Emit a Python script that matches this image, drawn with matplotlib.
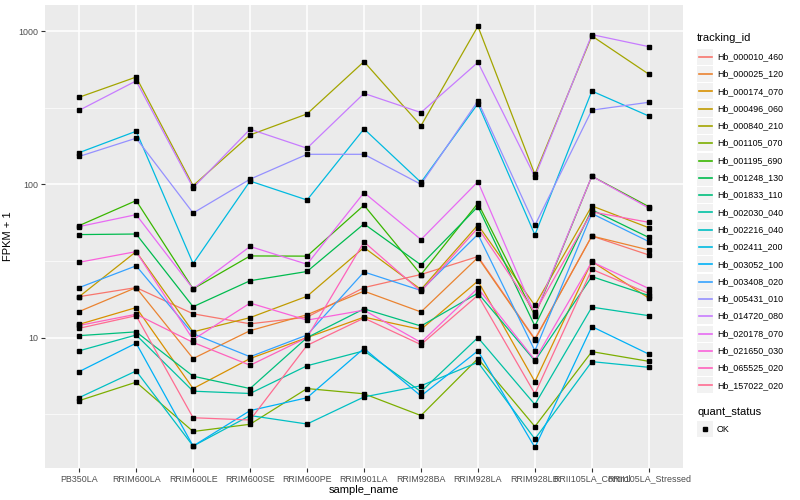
import numpy as np
import matplotlib
matplotlib.use("Agg")
import matplotlib.pyplot as plt
from matplotlib.lines import Line2D
from matplotlib.patches import Rectangle

plt.rcParams['font.family'] = ['Liberation Sans', 'DejaVu Sans']

######## data ########
samples = ["PB350LA", "RRIM600LA", "RRIM600LE", "RRIM600SE", "RRIM600PE", "RRIM901LA",
           "RRIM928BA", "RRIM928LA", "RRIM928LB", "RRII105LA_Control", "RRII105LA_Stressed"]

tracking_ids = ["Hb_000010_460", "Hb_000025_120", "Hb_000174_070", "Hb_000496_060",
                "Hb_000840_210", "Hb_001105_070", "Hb_001195_690", "Hb_001248_130",
                "Hb_001833_110", "Hb_002030_040", "Hb_002216_040", "Hb_002411_200",
                "Hb_003052_100", "Hb_003408_020", "Hb_005431_010", "Hb_014720_080",
                "Hb_020178_070", "Hb_021650_030", "Hb_065525_020", "Hb_157022_020"]

# ggplot default hue palette, 20 levels
colors = ["#F8766D", "#EA8331", "#D89000", "#C09B00", "#A3A500", "#7CAE00", "#39B600",
          "#00BB4E", "#00BF7D", "#00C1A3", "#00BFC4", "#00BAE0", "#00B0F6", "#35A2FF",
          "#9590FF", "#C77CFF", "#E76BF3", "#FA62DB", "#FF62BC", "#FF6C91"]

# FPKM + 1, one list per tracking_id (in sample order)
hb_000010_460 = [18.5, 21.2, 14.3, 12.3, 13.6, 21.2, 25.8, 33.8, 9.8, 46, 34.6]
hb_000025_120 = [14.8, 21.2, 7.3, 11.1, 14.1, 20.1, 14.7, 33.3, 9.7, 46, 37.3]
hb_000174_070 = [12.2, 15.7, 4.65, 7.3, 10.0, 13.6, 11.3, 23.4, 5.16, 31.4, 18.1]
hb_000496_060 = [18.5, 36.4, 10.9, 13.5, 18.6, 38.7, 20.6, 54.3, 16.2, 72.3, 52.1]
hb_000840_210 = [370, 501, 98, 210, 288, 632, 241, 1074, 116, 929, 523]
hb_001105_070 = [3.88, 5.12, 2.44, 2.72, 4.65, 4.3, 3.1, 7.3, 2.63, 8.1, 7.0]
hb_001195_690 = [53.8, 78.3, 20.8, 34.1, 34.0, 73.1, 25.8, 75.3, 13.9, 113, 71.5]
hb_001248_130 = [47, 47.4, 15.9, 23.5, 27.0, 55.2, 29.8, 71.5, 11.9, 68.2, 45]
hb_001833_110 = [10.3, 10.9, 5.6, 4.65, 10.0, 15.4, 11.9, 19.5, 7.05, 25.0, 18.8]
hb_002030_040 = [8.2, 10.4, 4.47, 4.32, 6.55, 8.2, 4.44, 10.0, 3.66, 15.8, 13.9]
hb_002216_040 = [4.06, 6.06, 1.96, 3.10, 2.73, 4.1, 4.85, 6.9, 2.18, 6.97, 6.4]
hb_002411_200 = [161, 222, 30.4, 105, 79, 230, 103, 336, 46.8, 406, 279]
hb_003052_100 = [6.0, 9.2, 1.96, 3.34, 4.05, 8.5, 4.16, 8.2, 1.92, 11.8, 7.8]
hb_003408_020 = [21.2, 29.4, 10.6, 7.5, 10.4, 26.8, 20.3, 47.2, 8.2, 64.5, 42.3]
hb_005431_010 = [152, 200, 65, 108, 157, 157, 100, 350, 54, 305, 343]
hb_014720_080 = [304, 473, 95, 229, 172, 392, 294, 625, 112, 948, 791]
hb_020178_070 = [53, 63.4, 20.8, 39.3, 30.1, 88.3, 43.6, 104, 14.2, 113, 70]
hb_021650_030 = [31, 36.4, 9.7, 16.8, 13.0, 15.1, 9.3, 21.0, 7.15, 31.2, 20.9]
hb_065525_020 = [12.0, 14.2, 9.3, 6.6, 10.0, 42.1, 20.0, 52, 14.6, 66.1, 56.5]
hb_157022_020 = [11.5, 13.9, 3.0, 2.9, 8.9, 13.4, 9.0, 18.9, 4.3, 27.9, 19.4]

series = [hb_000010_460, hb_000025_120, hb_000174_070, hb_000496_060, hb_000840_210,
          hb_001105_070, hb_001195_690, hb_001248_130, hb_001833_110, hb_002030_040,
          hb_002216_040, hb_002411_200, hb_003052_100, hb_003408_020, hb_005431_010,
          hb_014720_080, hb_020178_070, hb_021650_030, hb_065525_020, hb_157022_020]

######## plot ########
fig = plt.figure(figsize=(8, 5), dpi=100)
ax = fig.add_axes([45/800, 1-468/500, (683-45)/800, (468-5)/500])
ax.set_facecolor("#EBEBEB")

x = np.arange(len(samples))
for vals, col in zip(series, colors):
    ax.plot(x, vals, color=col, lw=0.9, zorder=3)
for vals in series:
    ax.plot(x, vals, ls="none", marker="s", ms=2.3, color="black", zorder=4)

ax.set_yscale("log")
ax.set_ylim(1.41, 1479)
ax.set_xlim(-0.6, len(samples) - 0.4)

ax.set_yticks([10, 100, 1000])
ax.set_yticklabels(["10", "100", "1000"])
ax.yaxis.set_minor_locator(matplotlib.ticker.FixedLocator([10**0.5, 10**1.5, 10**2.5]))
ax.yaxis.set_minor_formatter(matplotlib.ticker.NullFormatter())
ax.set_xticks(x)
ax.set_xticklabels(samples)

ax.grid(True, which="major", color="white", lw=1.1, zorder=0)
ax.grid(True, which="minor", axis="y", color="white", lw=0.5, zorder=0)
ax.set_axisbelow(True)
for s in ax.spines.values():
    s.set_visible(False)
ax.tick_params(axis="both", which="major", length=2.7, width=0.8, color="#333333",
               labelsize=6.4, labelcolor="#4D4D4D", pad=2)
ax.tick_params(axis="y", which="minor", length=0)

ax.set_xlabel("sample_name", fontsize=8, labelpad=1)
ax.set_ylabel("FPKM + 1", fontsize=8, labelpad=4)

# legend drawn like ggplot guides
fig.text(697/800, 1-38/500, "tracking_id", fontsize=8, va="center", ha="left")
step = 17.3
for i, (tid, col) in enumerate(zip(tracking_ids, colors)):
    yc = 56.7 + i*step
    fig.patches.append(Rectangle((697/800, 1-(yc+8)/500), 16/800, 16/500,
                                 transform=fig.transFigure, facecolor="#F2F2F2",
                                 edgecolor="none"))
    fig.lines.append(Line2D([698.5/800, 711.5/800], [1-yc/500, 1-yc/500],
                            transform=fig.transFigure, color=col, lw=1.2))
    fig.text(717/800, 1-yc/500, tid, fontsize=6.4, va="center", ha="left")

fig.text(697/800, 1-412/500, "quant_status", fontsize=8, va="center", ha="left")
fig.patches.append(Rectangle((697/800, 1-437/500), 16/800, 16/500,
                             transform=fig.transFigure, facecolor="#F2F2F2", edgecolor="none"))
fig.lines.append(Line2D([705/800], [1-429/500], transform=fig.transFigure, marker="s",
                        ms=2.3, color="black", ls="none"))
fig.text(717/800, 1-429/500, "OK", fontsize=6.4, va="center", ha="left")

fig.savefig("out.png", dpi=100)
